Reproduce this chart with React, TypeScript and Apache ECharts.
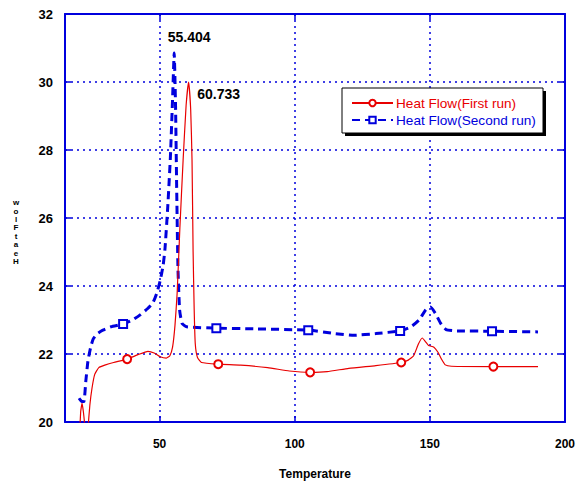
import React, { useEffect, useRef } from "react";
import * as echarts from "echarts";

// ---- data ----
const firstRunX = [20.0, 20.8, 21.3, 21.8, 22.4, 23.0, 23.5, 24.2, 25.0, 26.0, 27.5, 30.0, 33.0, 38.0, 42.0, 45.7, 48.0, 50.2, 52.5, 53.8, 54.8, 55.7, 56.5, 57.5, 58.7, 59.8, 60.733, 61.5, 62.0, 62.4, 62.8, 63.2, 64.0, 65.5, 71.7, 80.0, 90.0, 98.0, 105.7, 112.0, 120.0, 130.0, 139.4, 142.0, 144.0, 145.8, 147.2, 148.5, 149.5, 151.5, 153.0, 154.3, 155.7, 158.0, 173.5, 190.0];
const firstRunY = [19.0, 20.3, 20.55, 20.3, 19.8, 19.0, 19.8, 20.5, 21.0, 21.4, 21.6, 21.68, 21.75, 21.85, 21.98, 22.08, 22.03, 21.92, 21.88, 21.95, 22.2, 22.85, 23.8, 25.7, 27.7, 29.3, 30.0, 29.2, 27.7, 25.0, 23.3, 22.3, 21.9, 21.75, 21.7, 21.67, 21.6, 21.5, 21.46, 21.48, 21.58, 21.66, 21.75, 21.82, 21.95, 22.3, 22.47, 22.35, 22.25, 22.2, 22.05, 21.85, 21.68, 21.64, 21.63, 21.63];
const firstRunMarkers = [38.0, 71.7, 105.7, 139.4, 173.5];

const secondRunX = [20.2, 21.2, 22.0, 22.7, 23.5, 24.5, 25.5, 27.0, 29.0, 32.0, 36.5, 40.0, 42.8, 45.5, 47.5, 49.0, 50.2, 51.3, 52.0, 53.0, 54.0, 54.8, 55.404, 55.9, 56.3, 56.8, 57.4, 58.3, 60.0, 71.0, 85.0, 105.0, 115.0, 122.0, 130.0, 139.0, 143.0, 146.0, 148.5, 150.2, 152.0, 154.0, 156.0, 160.0, 173.0, 190.0];
const secondRunY = [20.7, 20.6, 20.6, 21.2, 21.8, 22.2, 22.45, 22.6, 22.7, 22.8, 22.88, 23.0, 23.15, 23.33, 23.5, 23.8, 24.15, 24.6, 25.1, 26.3, 27.8, 29.5, 30.85, 29.3, 27.0, 24.5, 23.3, 22.9, 22.8, 22.76, 22.74, 22.7, 22.6, 22.55, 22.6, 22.68, 22.8, 23.0, 23.3, 23.38, 23.2, 22.9, 22.72, 22.68, 22.67, 22.65];
const secondRunMarkers = [36.5, 71.0, 105.0, 139.0, 173.0];

const peakX = [60.733, 55.404];
const peakY = [30.0, 30.85];

const xTickValues = [50, 100, 150, 200];
const seriesNames = ["Heat Flow(First run)", "Heat Flow(Second run)"];
const xTitle = "Temperature";
const yTitle = "HeatFlow";

const RED = "#e80000";
const BLUE = "#0000dd";
const FONT = "'Liberation Sans', Arial, sans-serif";

function buildData(xs: number[], ys: number[], markers: number[], symbol: string) {
  return xs.map((x, i) =>
    markers.includes(x)
      ? { value: [x, ys[i]], symbol, symbolSize: 8 }
      : { value: [x, ys[i]], symbol: "none" }
  );
}

export default function App() {
  const ref = useRef<HTMLDivElement>(null);
  useEffect(() => {
    if (!ref.current) return;
    const chart = echarts.init(ref.current, null, { renderer: "svg" });
    const gridLine = { show: true, lineStyle: { color: BLUE, type: [2, 4], width: 1.5 } };
    const axisLine = { show: true, onZero: false, lineStyle: { color: BLUE, width: 2 } };
    const tick = { show: true, inside: true, length: 6, lineStyle: { color: BLUE, width: 1.5 } };
    chart.setOption({
      animation: false,
      backgroundColor: "#fff",
      grid: { left: 65, right: 22, top: 14, bottom: 66 },
      xAxis: [
        {
          type: "value",
          min: 15,
          max: 200,
          axisLine,
          axisTick: { ...tick, customValues: xTickValues.slice(0, 3) },
          splitLine: gridLine,
          axisLabel: {
            customValues: xTickValues,
            color: "#000",
            fontWeight: "bold",
            fontSize: 12,
            fontFamily: FONT,
            margin: 16,
          },
          name: xTitle,
          nameLocation: "middle",
          nameGap: 46,
          nameTextStyle: { color: "#000", fontWeight: "bold", fontSize: 12, fontFamily: FONT },
        },
        {
          type: "value",
          position: "top",
          min: 15,
          max: 200,
          axisLine,
          axisTick: { ...tick, customValues: xTickValues.slice(0, 3) },
          splitLine: { show: false },
          axisLabel: { show: false },
        },
      ],
      yAxis: [
        {
          type: "value",
          min: 20,
          max: 32,
          interval: 2,
          axisLine,
          axisTick: tick,
          splitLine: gridLine,
          axisLabel: { color: "#000", fontWeight: "bold", fontSize: 13, fontFamily: FONT, margin: 12 },
        },
        {
          type: "value",
          position: "right",
          min: 20,
          max: 32,
          interval: 2,
          axisLine,
          axisTick: tick,
          splitLine: { show: false },
          axisLabel: { show: false },
        },
      ],
      legend: {
        orient: "vertical",
        left: 342,
        top: 88,
        z: 6,
        padding: [8, 9, 8, 9],
        itemGap: 3,
        itemWidth: 41,
        itemHeight: 8,
        data: [
          { name: seriesNames[0], textStyle: { color: RED } },
          { name: seriesNames[1], textStyle: { color: BLUE } },
        ],
        textStyle: { fontSize: 13.6, fontFamily: FONT, padding: [0, 0, 0, -2] },
      },
      graphic: [
        {
          type: "rect",
          z: 4,
          shape: { x: 345, y: 91, width: 201, height: 45 },
          style: { fill: "#000" },
        },
        {
          type: "rect",
          z: 5,
          shape: { x: 342, y: 88, width: 201, height: 45 },
          style: { fill: "#fff", stroke: "#000", lineWidth: 1 },
        },
        {
          type: "text",
          x: 16,
          y: 232,
          style: {
            text: yTitle.split("").reverse().join("\n"),
            font: `bold 8px ${FONT}`,
            lineHeight: 8.4,
            fill: "#000",
            align: "center",
            verticalAlign: "middle",
          },
        },
      ],
      series: [
        {
          name: seriesNames[0],
          type: "line",
          smooth: 0.15,
          symbol: "emptyCircle",
          symbolSize: 8,
          showSymbol: true,
          clip: true,
          z: 3,
          lineStyle: { color: RED, width: 1.2 },
          itemStyle: { color: RED, borderWidth: 1.2 },
          data: buildData(firstRunX, firstRunY, firstRunMarkers, "emptyCircle"),
          markPoint: {
            symbol: "circle",
            symbolSize: 0,
            data: [
              {
                coord: [peakX[0], peakY[0]],
                label: {
                  show: true,
                  formatter: peakX[0].toFixed(3),
                  position: "inside",
                  offset: [30, 12],
                  color: "#000",
                  fontWeight: "bold",
                  fontSize: 14,
                  fontFamily: FONT,
                },
              },
            ],
          },
        },
        {
          name: seriesNames[1],
          type: "line",
          smooth: 0.15,
          symbol: "emptyRect",
          symbolSize: 8,
          showSymbol: true,
          clip: true,
          z: 2,
          lineStyle: { color: BLUE, width: 3, type: [8, 5] },
          itemStyle: { color: BLUE, borderWidth: 1.5 },
          data: buildData(secondRunX, secondRunY, secondRunMarkers, "emptyRect"),
          markPoint: {
            symbol: "circle",
            symbolSize: 0,
            data: [
              {
                coord: [peakX[1], peakY[1]],
                label: {
                  show: true,
                  formatter: peakX[1].toFixed(3),
                  position: "inside",
                  offset: [15, -16],
                  color: "#000",
                  fontWeight: "bold",
                  fontSize: 14,
                  fontFamily: FONT,
                },
              },
            ],
          },
        },
      ],
    });
    return () => chart.dispose();
  }, []);
  return <div ref={ref} style={{ width: 587, height: 488, position: "absolute", left: 0, top: 0 }} />;
}
